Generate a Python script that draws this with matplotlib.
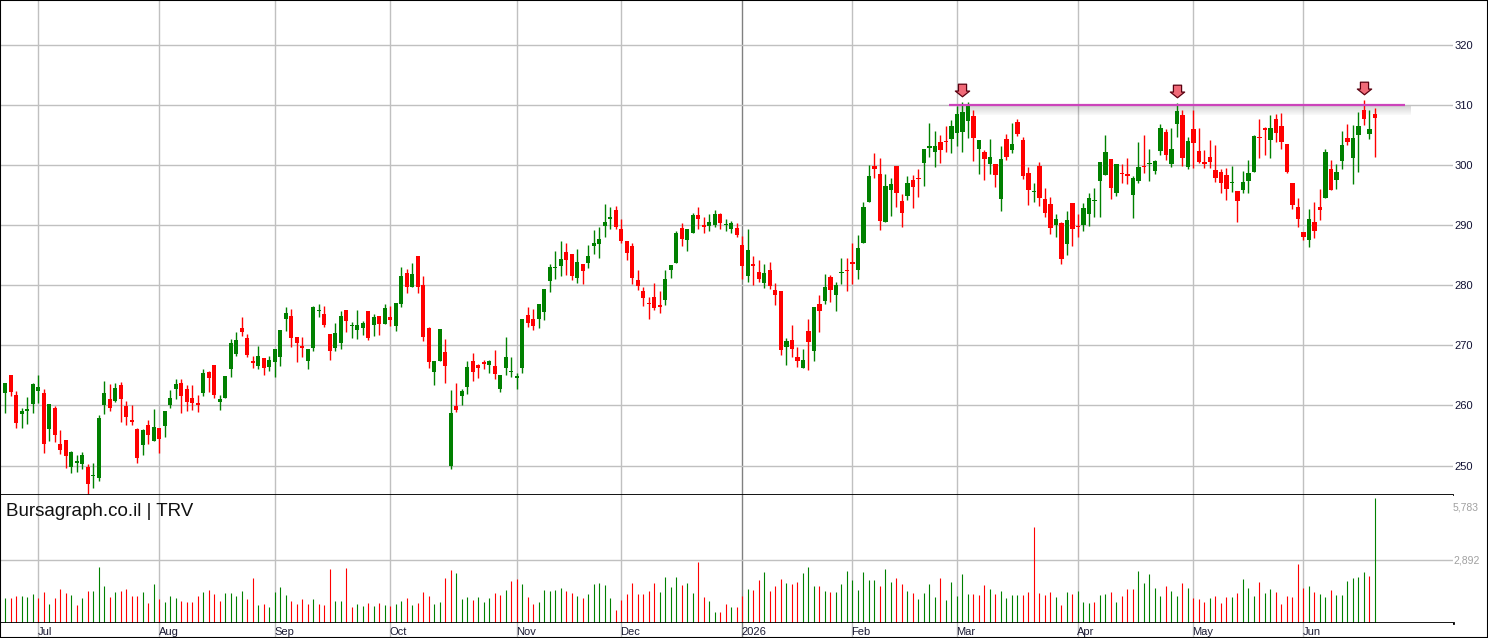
import matplotlib
matplotlib.use("Agg")
import matplotlib.pyplot as plt
import numpy as np
import pandas as pd
from matplotlib.path import Path
from matplotlib.patches import Rectangle

plt.rcParams['font.family'] = ['Liberation Sans', 'DejaVu Sans']

# ---------------- data ----------------
holidays = ['2025-07-04', '2025-09-01', '2025-11-27', '2025-12-25', '2026-01-01',
            '2026-01-19', '2026-02-16', '2026-04-03', '2026-05-25']
dates = pd.bdate_range('2025-06-23', '2026-06-18')
dates = dates[~dates.isin(pd.to_datetime(holidays))]

opens = [262.0, 265.1, 261.75, 258.65, 259.0, 260.3, 262.4, 262.1, 256.0, 259.6,
         253.6, 254.25, 249.8, 250.5, 250.3, 249.8, 248.3, 248.0, 260.0, 261.1,
         260.8, 263.4, 259.9, 257.6, 256.1, 253.5, 256.75, 254.15, 256.25, 256.5,
         260.0, 262.75, 263.75, 262.75, 261.25, 260.4, 262.1, 265.6, 266.75, 260.6,
         261.3, 266.1, 268.6, 272.9, 271.2, 267.4, 266.6, 267.9, 266.4, 267.25,
         268.1, 274.4, 274.9, 271.4, 269.9, 267.4, 269.6, 275.8, 275.2, 271.9,
         269.6, 270.4, 275.9, 273.2, 272.6, 272.9, 275.7, 273.4, 274.9, 273.6,
         274.7, 273.2, 276.9, 282.05, 279.7, 284.9, 280.05, 272.9, 265.6, 267.4,
         268.9, 250.0, 259.9, 261.6, 263.1, 267.4, 266.75, 267.1, 266.75, 266.6,
         262.7, 266.2, 265.5, 264.7, 266.3, 275.0, 274.4, 274.4, 275.6, 280.7,
         282.9, 283.2, 285.5, 285.2, 281.2, 283.5, 283.7, 286.6, 286.9, 289.9,
         291.1, 292.5, 289.3, 287.3, 286.5, 280.85, 279.0, 277.0, 278.0, 276.7,
         277.5, 282.5, 283.7, 289.5, 287.5, 288.7, 291.7, 289.9, 289.8, 290.0,
         291.8, 290.1, 289.3, 289.5, 286.7, 281.6, 283.4, 282.2, 280.4, 282.55,
         279.2, 279.05, 269.7, 270.9, 268.1, 266.2, 272.4, 269.1, 276.9, 277.4,
         281.4, 278.4, 282.1, 282.5, 283.9, 282.55, 287.0, 293.85, 299.85, 298.5,
         290.5, 295.85, 299.85, 294.0, 294.85, 297.5, 297.85, 300.35, 302.9, 302.2,
         303.85, 304.0, 304.35, 305.35, 305.5, 307.35, 308.2, 302.7, 302.2, 300.2,
         300.2, 294.4, 304.35, 302.5, 307.2, 304.2, 298.7, 295.5, 299.9, 294.4,
         293.6, 290.1, 290.4, 286.8, 293.75, 289.9, 290.1, 291.9, 294.0, 297.4,
         298.4, 301.05, 295.4, 298.6, 298.4, 295.1, 297.4, 299.8, 300.2, 299.05,
         302.4, 305.5, 300.2, 306.85, 308.3, 299.7, 306.0, 302.4, 300.4, 301.4,
         299.2, 298.9, 298.4, 297.0, 295.75, 295.9, 297.4, 298.9, 304.7, 306.2,
         304.1, 307.6, 306.5, 303.5, 297.1, 293.0, 288.9, 287.6, 290.5, 293.0,
         294.5, 299.4, 297.6, 300.6, 304.5, 301.2, 305.0, 309.1, 305.2, 308.5]

highs = [263.8, 265.1, 262.4, 259.6, 261.4, 263.75, 265.1, 262.75, 260.3, 259.9,
         255.9, 254.25, 252.5, 251.8, 252.3, 250.3, 250.4, 258.4, 264.1, 263.6,
         263.75, 263.9, 260.8, 260.1, 256.25, 256.1, 257.6, 259.4, 256.25, 259.1,
         262.6, 264.4, 264.4, 263.4, 263.4, 261.75, 266.1, 265.75, 266.75, 261.75,
         264.9, 271.1, 272.2, 274.7, 271.9, 268.3, 269.9, 267.9, 268.2, 269.4,
         272.6, 276.4, 276.1, 271.4, 271.4, 269.4, 276.6, 276.9, 276.6, 271.9,
         273.7, 275.7, 275.9, 273.9, 275.9, 274.1, 275.7, 275.2, 274.9, 276.9,
         276.6, 277.1, 283.05, 282.7, 283.7, 284.9, 281.55, 273.1, 267.4, 272.7,
         271.1, 262.6, 263.75, 262.75, 267.4, 268.75, 266.9, 267.6, 267.6, 269.25,
         265.1, 271.4, 268.0, 265.4, 274.4, 276.4, 276.0, 276.9, 279.35, 283.5,
         285.7, 287.3, 287.0, 285.2, 286.0, 283.5, 286.7, 289.2, 289.7, 293.5,
         293.0, 293.2, 291.0, 287.3, 287.0, 282.5, 279.7, 278.0, 280.35, 279.0,
         282.5, 283.3, 289.0, 290.3, 289.3, 292.0, 293.0, 291.3, 291.8, 292.5,
         292.0, 291.0, 290.7, 290.3, 288.2, 289.3, 284.9, 284.2, 283.5, 283.9,
         280.4, 279.05, 271.2, 273.4, 269.75, 269.4, 274.4, 276.4, 278.4, 281.9,
         281.7, 280.55, 284.5, 284.5, 287.0, 288.4, 293.85, 300.0, 302.0, 301.2,
         298.5, 297.85, 299.85, 295.2, 298.2, 298.35, 299.35, 302.7, 307.0, 305.7,
         305.0, 306.5, 307.5, 309.85, 310.5, 310.5, 309.2, 304.2, 302.5, 304.35,
         300.2, 303.25, 305.2, 307.0, 307.7, 304.7, 299.7, 297.1, 300.55, 296.25,
         294.75, 291.9, 290.6, 292.3, 293.75, 291.8, 293.75, 295.4, 296.25, 300.55,
         305.0, 301.05, 300.2, 300.2, 301.2, 298.1, 303.8, 305.0, 302.7, 300.9,
         306.85, 306.0, 306.2, 310.3, 309.2, 304.7, 309.2, 306.2, 302.55, 304.2,
         303.3, 299.4, 299.55, 299.9, 295.75, 299.05, 300.9, 305.0, 307.6, 306.3,
         308.3, 308.5, 308.6, 303.5, 297.1, 294.5, 288.9, 292.7, 293.8, 296.0,
         302.7, 300.9, 300.2, 305.7, 306.8, 306.7, 308.8, 310.9, 309.1, 309.45]

lows = [258.8, 261.5, 256.3, 256.3, 256.9, 258.8, 260.4, 252.1, 254.15, 254.0,
        251.95, 249.65, 248.8, 249.0, 249.5, 245.2, 246.3, 247.5, 258.65, 259.0,
        260.6, 257.3, 256.8, 256.8, 250.35, 251.8, 253.65, 254.15, 252.15, 254.8,
        259.5, 261.1, 258.8, 259.0, 259.3, 258.9, 261.5, 262.25, 261.3, 259.3,
        261.3, 264.8, 268.2, 271.6, 268.1, 266.3, 266.1, 265.1, 265.75, 264.8,
        266.6, 272.4, 269.7, 267.25, 268.1, 266.1, 269.1, 274.7, 273.1, 267.6,
        269.1, 269.4, 272.2, 271.2, 271.1, 271.7, 270.9, 271.6, 271.7, 273.6,
        273.2, 272.4, 276.4, 278.7, 279.7, 278.7, 270.7, 266.2, 263.4, 267.4,
        263.75, 249.5, 258.9, 260.0, 261.9, 264.1, 264.5, 266.1, 265.4, 264.4,
        262.3, 265.0, 264.7, 262.7, 265.4, 273.0, 272.6, 272.9, 274.2, 278.9,
        281.0, 281.5, 281.7, 280.9, 280.4, 280.2, 282.85, 285.2, 284.5, 288.0,
        289.4, 289.3, 287.0, 284.2, 280.2, 279.2, 276.5, 274.4, 275.85, 275.4,
        276.7, 281.2, 283.7, 286.5, 285.7, 288.7, 289.3, 288.7, 289.0, 289.7,
        289.3, 289.1, 288.7, 288.0, 281.0, 280.6, 280.05, 280.55, 279.55, 279.4,
        276.7, 268.4, 266.75, 268.1, 266.4, 266.2, 265.9, 267.4, 272.2, 276.9,
        277.2, 275.7, 280.2, 279.05, 280.2, 281.05, 287.0, 293.85, 297.85, 289.2,
        290.5, 291.5, 293.0, 289.7, 294.2, 292.9, 294.7, 296.5, 301.35, 299.7,
        300.35, 302.2, 302.0, 303.2, 302.2, 304.5, 300.7, 298.5, 297.5, 298.5,
        296.35, 292.4, 300.9, 302.0, 304.85, 297.7, 293.4, 293.9, 293.25, 291.4,
        288.45, 287.95, 283.5, 285.0, 286.6, 287.95, 288.95, 289.8, 291.4, 291.3,
        298.4, 294.4, 294.9, 297.1, 296.9, 291.2, 297.0, 298.6, 297.4, 298.55,
        301.7, 300.9, 299.7, 304.7, 299.9, 299.3, 299.55, 300.4, 299.55, 299.55,
        297.2, 295.4, 294.25, 295.6, 290.6, 295.4, 295.4, 298.9, 301.2, 301.6,
        301.1, 303.9, 302.7, 298.6, 292.7, 289.7, 287.6, 286.3, 287.9, 290.9,
        294.5, 295.8, 296.1, 299.4, 303.4, 296.8, 298.9, 306.7, 304.4, 301.4]

closes = [263.75, 262.3, 257.0, 259.1, 259.4, 263.6, 263.1, 253.65, 260.25, 255.15,
          252.65, 251.65, 252.3, 250.8, 251.8, 247.0, 248.4, 257.9, 262.1, 259.5,
          262.9, 261.0, 258.15, 257.3, 251.2, 255.9, 255.15, 256.4, 254.5, 259.1,
          261.25, 263.6, 261.5, 260.5, 260.45, 260.1, 265.4, 264.6, 261.8, 261.1,
          264.9, 270.4, 270.9, 272.2, 268.4, 267.0, 268.2, 266.3, 267.6, 269.4,
          272.6, 275.4, 271.2, 270.4, 269.6, 269.4, 276.4, 275.9, 273.4, 269.1,
          272.1, 274.9, 274.1, 273.3, 273.4, 273.7, 271.2, 274.7, 273.6, 276.2,
          274.2, 277.1, 281.6, 279.7, 281.9, 279.7, 271.4, 267.25, 267.4, 272.7,
          266.6, 258.75, 259.25, 262.4, 266.4, 265.6, 266.25, 267.0, 267.4, 265.25,
          265.0, 268.0, 265.7, 264.8, 274.4, 273.7, 273.25, 276.9, 279.35, 283.0,
          283.05, 284.3, 284.2, 281.6, 283.8, 282.35, 284.8, 287.0, 287.7, 290.5,
          291.3, 289.7, 287.3, 285.3, 281.2, 279.85, 277.85, 276.9, 276.2, 276.4,
          281.0, 283.3, 288.7, 287.7, 289.3, 291.7, 291.0, 289.8, 290.5, 291.8,
          290.3, 290.2, 290.3, 288.3, 283.2, 285.8, 283.3, 281.05, 282.05, 279.9,
          278.4, 269.25, 270.7, 269.4, 267.4, 267.6, 270.6, 276.4, 275.7, 279.7,
          279.2, 280.05, 282.2, 282.4, 283.55, 286.2, 293.0, 298.2, 299.35, 290.7,
          296.5, 296.9, 295.35, 292.0, 297.0, 296.35, 297.75, 302.7, 303.1, 303.2,
          302.5, 303.9, 306.5, 308.5, 308.85, 310.0, 304.5, 304.2, 301.0, 301.35,
          298.35, 301.05, 301.4, 303.5, 305.2, 298.2, 295.9, 295.6, 294.6, 292.1,
          289.6, 291.1, 284.3, 290.8, 289.3, 289.75, 292.9, 294.6, 294.1, 300.55,
          302.2, 296.25, 300.2, 298.5, 298.3, 297.9, 299.7, 299.7, 300.3, 300.7,
          306.2, 301.7, 302.7, 309.0, 301.2, 304.0, 303.7, 300.55, 300.3, 300.55,
          297.9, 297.1, 296.1, 297.1, 294.1, 297.2, 298.7, 304.85, 304.5, 305.9,
          306.2, 305.3, 303.9, 298.9, 293.3, 291.0, 288.1, 291.0, 289.1, 292.5,
          302.2, 295.8, 298.9, 303.4, 303.9, 304.5, 306.5, 307.6, 306.0, 307.8]

volumes = [1144, 1144, 1237, 1237, 1190, 1330, 1144, 1422, 866, 1144,
           1561, 1376, 1283, 819, 1145, 1469, 1469, 2582, 1701, 1190,
           1422, 1469, 1561, 1237, 1237, 1422, 912, 1793, 1098, 959,
           1237, 1144, 1005, 959, 959, 1237, 1422, 1515, 1330, 1005,
           1376, 1376, 1237, 1469, 1098, 2072, 819, 866, 727, 1422,
           1654, 1283, 1005, 866, 1098, 866, 1098, 866, 819, 2489,
           1005, 1005, 2535, 727, 866, 773, 912, 773, 912, 819,
           773, 866, 1005, 1144, 819, 912, 1422, 1237, 866, 959,
           2072, 2443, 2304, 1098, 1190, 1051, 1190, 959, 1144, 1376,
           1283, 1515, 1933, 2025, 1793, 1190, 866, 959, 1515, 1469,
           1515, 1608, 1469, 1376, 1237, 1144, 1330, 1793, 1840, 1747,
           1144, 587, 1051, 1330, 1840, 1330, 1330, 1469, 1840, 1422,
           2118, 1654, 2118, 1747, 1840, 1376, 2814, 1190, 1005, 495,
           495, 866, 727, 727, 1237, 1561, 1515, 1979, 2350, 1469,
           1701, 2025, 1840, 1793, 1886, 2304, 2582, 1701, 1701, 1469,
           1422, 1422, 1793, 2396, 1979, 1515, 2350, 1979, 1979, 1701,
           2489, 1886, 2072, 1793, 1469, 1376, 1098, 1376, 1793, 1190,
           2072, 1051, 1886, 1237, 2257, 1330, 1330, 1283, 1747, 1561,
           1330, 1469, 1144, 1283, 1283, 1283, 1422, 4437, 1376, 1283,
           1422, 1190, 819, 1422, 1330, 1469, 959, 912, 959, 1283,
           1330, 1422, 959, 1237, 1561, 1561, 2396, 1840, 2257, 1608,
           1237, 1701, 1469, 1237, 1840, 1608, 1144, 1098, 959, 1144,
           1237, 912, 1190, 1190, 1376, 2025, 1608, 1237, 1886, 1376,
           1561, 1422, 866, 1237, 1190, 2721, 1608, 1701, 1422, 1330,
           1190, 1515, 1283, 1283, 1933, 2072, 2118, 2350, 2164, 5783]

price_ticks = [250, 260, 270, 280, 290, 300, 310, 320]
resistance = 310.0
resistance_span = (171.6, 254.5)      # trading-day index range of the drawn line
signal_days = [174, 213, 247]         # days marked with a down arrow
ticker_text = 'Bursagraph.co.il | TRV'

# ---------------- derived ----------------
o = np.array(opens); h = np.array(highs); l = np.array(lows); c = np.array(closes)
v = np.array(volumes)
idx = np.arange(len(c))
GREEN, RED = '#008000', '#ff0000'
cand_col = np.where(c >= o, GREEN, RED)
prev = np.concatenate([[c[0] - 1], c[:-1]])
vol_col = np.where(c >= prev, GREEN, RED)

months = pd.Series(dates.month)
month_pos = list(np.where(months.values != np.roll(months.values, 1))[0])
month_pos = [p for p in month_pos if p > 0]
month_lab = [dates[p].strftime('%Y') if dates[p].month == 1 else dates[p].strftime('%b')
             for p in month_pos]

# ---------------- figure ----------------
W, H = 1488, 638
fig = plt.figure(figsize=(W / 100, H / 100), dpi=100)
RIGHT = 1453 / W
y_split = 495
y_base = 622.7
ax = fig.add_axes([0, 1 - y_split / H, RIGHT, y_split / H])
axv = fig.add_axes([0, 1 - y_base / H, RIGHT, (y_base - y_split) / H])
axs = fig.add_axes([0, 0, RIGHT, 1 - y_base / H])

xl = (-0.964, 263.2)
GRID = '#c0c0c0'
for a in (ax, axv, axs):
    a.set_xlim(*xl)
    a.set_facecolor('white')
    for p, lab in zip(month_pos, month_lab):
        a.axvline(p, color='#808080' if lab.isdigit() else GRID, lw=1, zorder=0)
    a.set_xticks([])

# price panel
ax.set_ylim(245.1, 327.47)
ax.set_yticks(price_ticks)
ax.yaxis.tick_right()
ax.tick_params(axis='y', length=0, pad=1, labelsize=8, labelcolor='#111133')
ax.grid(axis='y', color=GRID, lw=1, zorder=0)
for s in ('top', 'left', 'right'):
    ax.spines[s].set_visible(False)
ax.spines['bottom'].set_color('black')
ax.spines['bottom'].set_linewidth(1.3)

ax.vlines(idx, l, h, colors=cand_col, lw=1.0, zorder=2)
body_h = np.maximum(np.abs(c - o), 0.22)
body_b = np.where(np.abs(c - o) < 0.22, (o + c) / 2 - 0.11, np.minimum(o, c))
ax.bar(idx, body_h, bottom=body_b, width=0.78, color=cand_col, lw=0, zorder=3)

# resistance line with soft drop shadow
x0, x1 = resistance_span
n_sh = 10
for k in range(n_sh):
    ax.fill_between([x0 + 1.5, x1 + 1.0], resistance - 0.17 * (k + 1), resistance - 0.17 * k,
                    color='black', alpha=0.16 * (1 - k / n_sh) + 0.01, lw=0, zorder=1)
ax.plot([x0, x1], [resistance, resistance], color='#cc44bb', lw=1.6, zorder=4,
        solid_capstyle='butt')

arrow = Path([(-0.57, 0.88), (0.57, 0.88), (0.57, -0.08), (1.0, -0.08), (0.0, -0.88),
              (-1.0, -0.08), (-0.57, -0.08), (-0.57, 0.88)],
             [Path.MOVETO] + [Path.LINETO] * 6 + [Path.CLOSEPOLY])
sd = np.array(signal_days)
ax.plot(sd, h[sd] + 1.95, ls='none', marker=arrow, markersize=10.3,
        markerfacecolor='#f06a78', markeredgecolor='#5a0010', markeredgewidth=0.9, zorder=5)

# volume panel
vmax = v.max()
axv.set_ylim(0, vmax * (y_base - y_split) / (y_base - 498))
axv.axhline(vmax / 2, color=GRID, lw=1, zorder=0)
axv.set_yticks([])
for s in ('top', 'left', 'right'):
    axv.spines[s].set_visible(False)
axv.spines['bottom'].set_color('black')
axv.spines['bottom'].set_linewidth(2.0)
axv.vlines(idx, 0, v, colors=vol_col, lw=0.8, zorder=2)
axv.text(1.0, vmax / 2, f'{int(round(vmax / 2)):,}', transform=axv.get_yaxis_transform(),
         ha='left', va='center', fontsize=7.5, color='#a0a0a0')
axv.annotate(f'{int(vmax):,}', xy=(1.0, vmax), xycoords=axv.get_yaxis_transform(),
             xytext=(0, -7), textcoords='offset points', ha='left', va='center',
             fontsize=7.5, color='#a0a0a0')
fig.text(6 / W, 1 - 511.5 / H, ticker_text, fontsize=13.5, ha='left', va='center',
         color='#111111')

# month strip
axs.set_ylim(0, 1)
axs.set_yticks([])
for s in axs.spines.values():
    s.set_visible(False)
for p, lab in zip(month_pos, month_lab):
    axs.text(p - 0.15, 0.42, lab, ha='left', va='center', fontsize=8, color='#1a1a33')

fig.patches.append(Rectangle((0, 0), 1, 1, transform=fig.transFigure, fill=False,
                             ec='black', lw=1.5))
fig.savefig('out.png', dpi=100)
